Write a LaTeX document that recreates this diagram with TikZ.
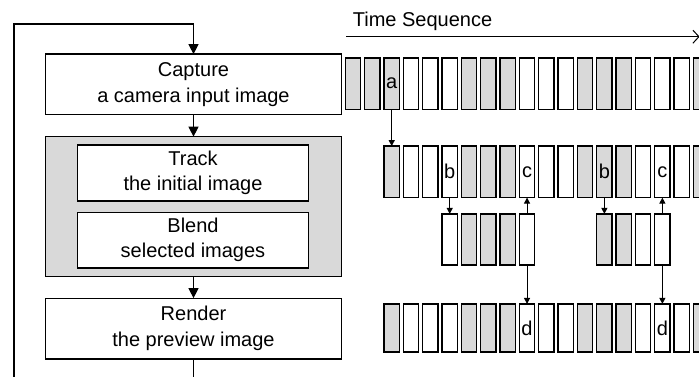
\documentclass[tikz,border=0pt]{standalone}
\usepackage{fontspec}
\setmainfont{Liberation Sans}
\usetikzlibrary{arrows.meta}
\definecolor{cellgray}{HTML}{D9D9D9}
\tikzset{
  box/.style={draw=black, line width=1.3pt, fill=white, inner sep=0pt, outer sep=0pt,
    align=center, font=\fontsize{20}{25.5}\selectfont},
  cell/.style={draw=black, line width=1.3pt, inner sep=0pt, outer sep=0pt,
    minimum width=15.4pt, anchor=north west},
  lbl/.style={inner sep=0pt, font=\fontsize{20}{24}\selectfont},
  flow/.style={line width=1.2pt, -{Triangle[width=10pt,length=10pt]}},
  link/.style={line width=1.1pt, -{Triangle[width=6pt,length=6pt]}},
  timeline/.style={line width=1pt, -{Straight Barb[length=6pt,width=13pt]}},
}
% one strip of frames: #1 name prefix, #2 top edge, #3 height, #4 frame slots
\newcommand\framestrip[4]{%
  \foreach \k in {#4} {
    \pgfmathtruncatemacro\shade{mod(floor(\k/3),2)}
    \ifnum\shade=0 \def\cellfill{cellgray}\else\def\cellfill{white}\fi
    \node[cell, minimum height=#3pt, fill=\cellfill] (#1\k) at ({345.35+\k*19.333},#2) {};
  }}
\begin{document}
\begin{tikzpicture}[x=1pt,y=-1pt]
\useasboundingbox (0,0) rectangle (699,377);
\clip (0,0) rectangle (699,377);

% ---- processing loop ----
\node[box, minimum width=295.7pt, minimum height=60.7pt] (capture) at (193.5,84.5)
  {Capture\\a camera input image};
\node[box, fill=cellgray, minimum width=295.7pt, minimum height=139.7pt] (group) at (193.5,206.5) {};
\node[box, minimum width=230.7pt, minimum height=55.7pt] (track) at (193,173)
  {Track\\the initial image};
\node[box, minimum width=230.7pt, minimum height=55.7pt] (blend) at (193,240)
  {Blend\\selected images};
\node[box, minimum width=295.7pt, minimum height=60.7pt] (render) at (193.5,328.5)
  {Render\\the preview image};

\coordinate (loopbottom) at (14,390);
\coordinate (looptop) at (193.5,24);
\draw[flow] (capture.south) -- (group.north);
\draw[flow] (group.south) -- (render.north);
\draw[flow] (render.south) |- (loopbottom) |- (looptop) -- (capture.north);

% ---- time sequence ----
\node[lbl, anchor=base west] (tslabel) at (352.7,26.7) {Time Sequence};
\coordinate (tstart) at (346,36.7);
\coordinate (tend) at (699.6,36.7);
\draw[timeline] (tstart) -- (tend);

\framestrip{r1-}{57.9}{51.4}{0,...,18}
\framestrip{r2-}{146.1}{51.5}{2,...,18}
\framestrip{r3-}{213.9}{51.1}{5,...,9,13,14,15,16}
\framestrip{r4-}{303.9}{48.1}{2,...,18}

\node[lbl] (la)  at (r1-2.center)  {a};
\node[lbl] (lb1) at (r2-5.center)  {b};
\node[lbl] (lc1) at (r2-9.center)  {c};
\node[lbl] (lb2) at (r2-13.center) {b};
\node[lbl] (lc2) at (r2-16.center) {c};
\node[lbl] (ld1) at (r4-9.center)  {d};
\node[lbl] (ld2) at (r4-16.center) {d};

\draw[link] (r1-2.south) -- (r2-2.north);
\draw[link] (r2-5.south) -- (r3-5.north);
\draw[link] (r3-9.north) -- (r2-9.south);
\draw[link] (r3-9.south) -- (r4-9.north);
\draw[link] (r2-13.south) -- (r3-13.north);
\draw[link] (r3-16.north) -- (r2-16.south);
\draw[link] (r3-16.south) -- (r4-16.north);
\end{tikzpicture}
\end{document}
